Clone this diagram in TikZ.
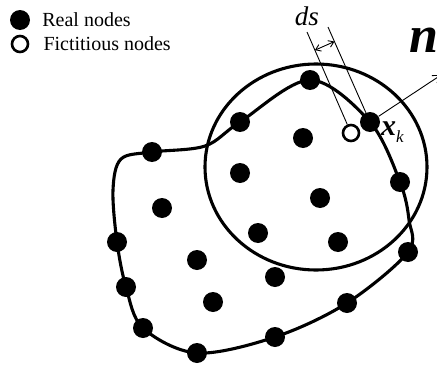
\documentclass[tikz,border=0pt]{standalone}
\usepackage{fontspec}
\setmainfont{Liberation Serif}
\usetikzlibrary{arrows.meta,calc,positioning}

\begin{document}
\begin{tikzpicture}[x=1pt,y=-1pt,
    realnode/.style={circle,fill=black,inner sep=0pt,minimum size=20pt},
    fictnode/.style={circle,draw=black,fill=white,line width=2.6pt,inner sep=0pt,minimum size=16pt},
    bound/.style={line width=3.1pt,line join=round},
    thinline/.style={line width=0.9pt},
    barbs/.style={{Straight Barb[length=5pt,width=7pt]}-{Straight Barb[length=5pt,width=7pt]}},
    legtext/.style={font=\fontsize{20}{22}\selectfont,inner sep=0pt,anchor=west}]
  \useasboundingbox (0,0) rectangle (437,367);

  % support domain and problem boundary
  \draw[bound] (316,167) ellipse[x radius=111,y radius=103];
  \draw[bound] plot[smooth cycle,tension=0.55] coordinates {
    (310,80) (370,122) (400,182) (409,220) (408,252) (347,303) (275,337)
    (197,353) (143,328) (126,287) (117,242) (113,190) (121,159) (152,152)
    (205,146) (240,122)};

  % field nodes
  \foreach \p [count=\i] in {(310,80),(400,182),(408,252),(347,303),(275,337),
      (197,353),(143,328),(126,287),(117,242),(152,152),(240,122)}
    \node[realnode] (b\i) at \p {};
  \node[realnode] (xk) at (370,122) {};
  \foreach \p [count=\i] in {(303,138),(240,173),(320,198),(162,208),(258,233),
      (338,242),(197,260),(275,277),(213,302)}
    \node[realnode] (in\i) at \p {};
  \node[fictnode] (fict) at (351,133) {};

  % ds
  \coordinate (dsA) at (307,32);
  \coordinate (dsB) at (328,27);
  \draw[thinline] (dsA) -- (fict);
  \draw[thinline] (dsB) -- (xk);
  \coordinate (dsP) at ($(dsA)!0.18!(fict)$);
  \coordinate (dsQ) at ($(dsB)!(dsP)!(xk)$);
  \draw[thinline,barbs] (dsP) -- (dsQ);
  \node[font=\fontsize{27}{30}\selectfont\itshape] (dslabel) at (307,16) {ds};

  % normal
  \coordinate (ntip) at (441,75);
  \draw[thinline,-{Straight Barb[length=7pt,width=9pt]}] (xk) -- (ntip);
  \node[font=\fontsize{52}{56}\selectfont\bfseries\itshape,anchor=base west,inner sep=0pt] (nlabel) at (409,52) {n};
  \node[anchor=base west,inner sep=0pt] (xklabel) at (381,135)
    {{\fontsize{30}{32}\selectfont\bfseries\itshape x}\raisebox{-7pt}{\fontsize{17}{18}\selectfont\itshape k}};

  % legend
  \node[realnode] (legreal) at (20,20) {};
  \node[legtext,right=12pt of legreal] (legrealtxt) {Real nodes};
  \node[fictnode] (legfict) at (20,44) {};
  \node[legtext,right=14pt of legfict] (legficttxt) {Fictitious nodes};
\end{tikzpicture}
\end{document}
